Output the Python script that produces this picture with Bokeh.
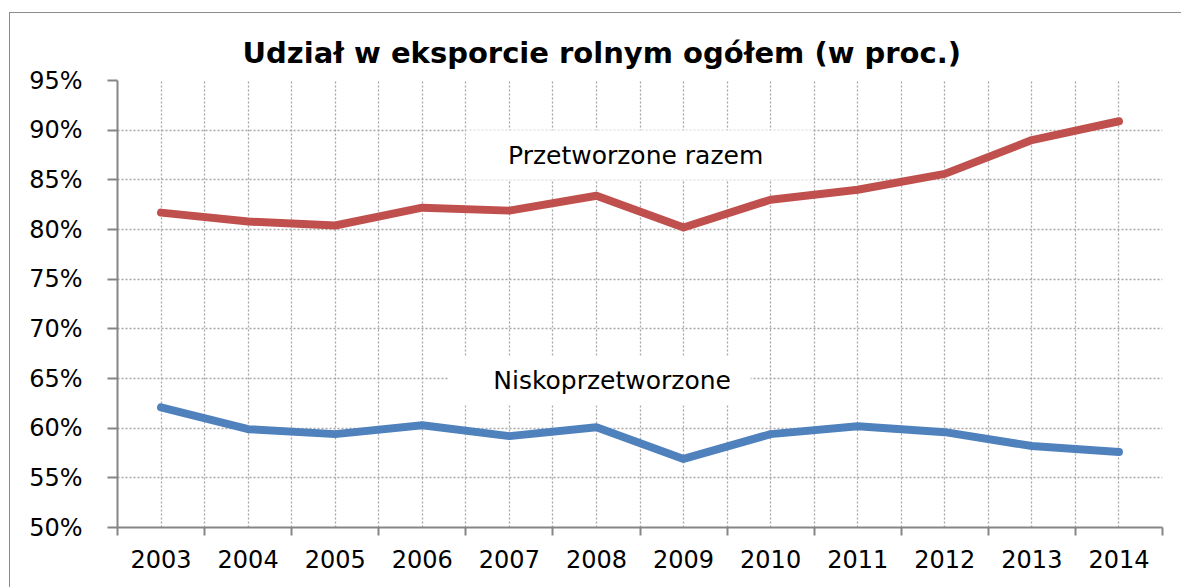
from bokeh.plotting import figure
from bokeh.models import (FixedTicker, PrintfTickFormatter, Label, BoxAnnotation, Range1d)
from bokeh.embed import file_html
from bokeh.resources import INLINE

years = ["2003", "2004", "2005", "2006", "2007", "2008", "2009", "2010", "2011", "2012", "2013", "2014"]
przetworzone = [81.7, 80.8, 80.4, 82.2, 81.9, 83.4, 80.2, 83.0, 84.0, 85.6, 89.0, 90.9]
nisko = [62.1, 59.9, 59.4, 60.3, 59.2, 60.1, 56.9, 59.4, 60.2, 59.6, 58.2, 57.6]
y_ticks = [50, 55, 60, 65, 70, 75, 80, 85, 90, 95]
title_text = "Udział w eksporcie rolnym ogółem (w proc.)"
label_red = "Przetworzone razem"
label_blue = "Niskoprzetworzone"

xs = list(range(len(years)))
n = len(years)

FONT = "DejaVu Sans"
AXIS_COLOR = "#868686"
GRID_COLOR = "#a6a6a6"

p = figure(width=1172, height=575, output_backend="svg", toolbar_location=None,
           x_range=Range1d(-0.5, n - 0.5), y_range=Range1d(50, 95),
           min_border_left=107, min_border_right=20, min_border_top=67, min_border_bottom=61)
p.margin = (12, 0, 0, 9)
p.styles = {"border-left": "1px solid #8c8c8c", "border-top": "1px solid #8c8c8c"}
p.outline_line_color = None
p.background_fill_color = "white"
p.border_fill_color = "white"

p.title.text = title_text
p.title.text_font = FONT
p.title.text_font_size = "29px"
p.title.text_font_style = "bold"
p.title.text_color = "black"
p.title.align = "left"
p.title.offset = 125
p.title.standoff = 22

centers = xs
bounds = [i - 0.5 for i in range(n + 1)]
p.xaxis.ticker = FixedTicker(ticks=centers, minor_ticks=bounds)
p.xaxis.major_label_overrides = {i: y for i, y in enumerate(years)}
p.xaxis.major_tick_line_color = None
p.xaxis.minor_tick_line_color = AXIS_COLOR
p.xaxis.minor_tick_line_width = 2
p.xaxis.minor_tick_out = 8
p.xaxis.minor_tick_in = 0
p.xaxis.axis_line_color = AXIS_COLOR
p.xaxis.axis_line_width = 2
p.xaxis.major_label_text_font = FONT
p.xaxis.major_label_text_font_size = "24px"
p.xaxis.major_label_text_color = "black"
p.xaxis.major_label_standoff = 14

p.yaxis.ticker = FixedTicker(ticks=y_ticks, minor_ticks=[])
p.yaxis.formatter = PrintfTickFormatter(format="%d%%")
p.yaxis.major_tick_line_color = AXIS_COLOR
p.yaxis.major_tick_line_width = 2
p.yaxis.major_tick_out = 10
p.yaxis.major_tick_in = 0
p.yaxis.minor_tick_line_color = None
p.yaxis.axis_line_color = AXIS_COLOR
p.yaxis.axis_line_width = 2
p.yaxis.major_label_text_font = FONT
p.yaxis.major_label_text_font_size = "24px"
p.yaxis.major_label_text_color = "black"
p.yaxis.major_label_standoff = 25

p.xgrid.ticker = FixedTicker(ticks=centers, minor_ticks=bounds)
p.xgrid.grid_line_color = GRID_COLOR
p.xgrid.grid_line_dash = "2 2"
p.xgrid.grid_line_width = 1.3
p.xgrid.minor_grid_line_color = GRID_COLOR
p.xgrid.minor_grid_line_dash = "2 2"
p.xgrid.minor_grid_line_width = 1.3
p.ygrid.grid_line_color = GRID_COLOR
p.ygrid.grid_line_dash = "2 2"
p.ygrid.grid_line_width = 1.5

p.line(xs, przetworzone, line_color="#C0504D", line_width=8, line_cap="round", line_join="round")
p.line(xs, nisko, line_color="#4F81BD", line_width=8, line_cap="round", line_join="round")

box1 = BoxAnnotation(left=3.5, right=7.48, bottom=85, top=90, fill_color="white", fill_alpha=1,
                     line_color=None, level="underlay")
box2 = BoxAnnotation(left=3.3, right=6.77, bottom=62.3, top=67.3, fill_color="white", fill_alpha=1,
                     line_color=None, level="underlay")
p.add_layout(box1)
p.add_layout(box2)

lab1 = Label(x=5.45, y=87.45, text=label_red, text_font=FONT, text_font_size="25px",
             text_align="center", text_baseline="middle", text_color="black")
lab2 = Label(x=5.18, y=64.8, text=label_blue, text_font=FONT, text_font_size="25px",
             text_align="center", text_baseline="middle", text_color="black")
p.add_layout(lab1)
p.add_layout(lab2)

open("out.html", "w").write(file_html(p, INLINE))
